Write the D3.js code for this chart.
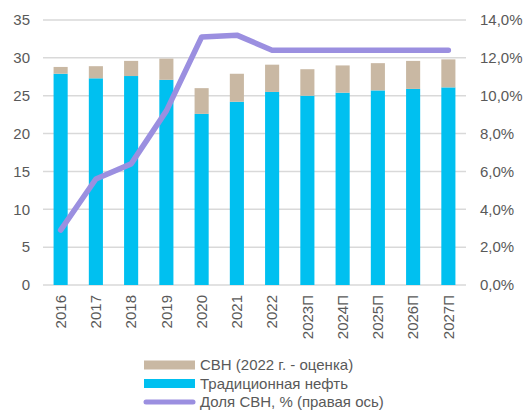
<!DOCTYPE html>
<html lang="ru">
<head>
<meta charset="UTF-8" />
<script src="https://d3js.org/d3.v7.min.js"></script>
<style>
  body { margin: 0; background: #fff; font-family: "Liberation Sans", Arial, sans-serif; }
  .axis text { fill: #595959; font-size: 15px; }
</style>
</head>
<body>
<svg width="528" height="410"></svg>
<script>
const years = ["2016", "2017", "2018", "2019", "2020", "2021", "2022", "2023П", "2024П", "2025П", "2026П", "2027П"];
const traditional = [27.9, 27.3, 27.6, 27.1, 22.6, 24.2, 25.5, 25.0, 25.4, 25.7, 25.9, 26.1];
const svn = [0.9, 1.6, 2.0, 2.8, 3.4, 3.7, 3.6, 3.5, 3.6, 3.6, 3.7, 3.7];
const svnShare = [2.9, 5.6, 6.4, 9.2, 13.1, 13.2, 12.4, 12.4, 12.4, 12.4, 12.4, 12.4];
const leftTicks = [0, 5, 10, 15, 20, 25, 30, 35];
const rightTicks = [0, 2, 4, 6, 8, 10, 12, 14];

const svg = d3.select("svg");
const margin = { top: 20, left: 43, right: 62, bottom: 125 };
const width = 528, height = 410;

const x = d3.scaleBand().domain(years).range([margin.left, width - margin.right]).paddingInner(0.6).paddingOuter(0.3);
const y = d3.scaleLinear().domain([0, 35]).range([height - margin.bottom, margin.top]);
const y2 = d3.scaleLinear().domain([0, 14]).range([height - margin.bottom, margin.top]);

// gridlines
svg.append("g")
  .selectAll("line")
  .data(leftTicks)
  .join("line")
  .attr("x1", margin.left)
  .attr("x2", width - margin.right)
  .attr("y1", d => y(d))
  .attr("y2", d => y(d))
  .attr("stroke", "#d9d9d9")
  .attr("stroke-width", 1.5);

const stacked = years.map((yr, i) => ({ yr, trad: traditional[i], svn: svn[i] }));

svg.append("g").selectAll("rect")
  .data(stacked)
  .join("rect")
  .attr("x", d => x(d.yr))
  .attr("width", x.bandwidth())
  .attr("y", d => y(d.trad))
  .attr("height", d => y(0) - y(d.trad))
  .attr("fill", "#00c0f0");

svg.append("g").selectAll("rect")
  .data(stacked)
  .join("rect")
  .attr("x", d => x(d.yr))
  .attr("width", x.bandwidth())
  .attr("y", d => y(d.trad + d.svn))
  .attr("height", d => y(d.trad) - y(d.trad + d.svn))
  .attr("fill", "#c9b8a3");

const line = d3.line()
  .x((d, i) => x(years[i]) + x.bandwidth() / 2)
  .y(d => y2(d));

svg.append("path")
  .datum(svnShare)
  .attr("d", line)
  .attr("fill", "none")
  .attr("stroke", "#9b8fe0")
  .attr("stroke-width", 5.5)
  .attr("stroke-linecap", "round")
  .attr("stroke-linejoin", "round");

// left axis
svg.append("g")
  .attr("class", "axis")
  .attr("transform", `translate(${margin.left},0)`)
  .call(d3.axisLeft(y).tickValues(leftTicks).tickSize(0).tickPadding(13))
  .call(g => g.select(".domain").remove());

// right axis
svg.append("g")
  .attr("class", "axis")
  .attr("transform", `translate(${width - margin.right},0)`)
  .call(d3.axisRight(y2).tickValues(rightTicks).tickSize(0).tickPadding(14)
    .tickFormat(d => d3.format(".1f")(d).replace(".", ",") + "%"))
  .call(g => g.select(".domain").remove());

// bottom axis
svg.append("g")
  .attr("class", "axis")
  .attr("transform", `translate(0,${height - margin.bottom})`)
  .call(d3.axisBottom(x).tickSize(0))
  .call(g => g.select(".domain").remove())
  .selectAll("text")
  .attr("transform", "rotate(-90)")
  .attr("text-anchor", "end")
  .attr("dy", "0.35em")
  .attr("dx", 0)
  .attr("y", 0)
  .attr("x", -10);

// legend
const legendItems = [
  { label: "СВН (2022 г. - оценка)", color: "#c9b8a3", type: "bar" },
  { label: "Традиционная нефть", color: "#00c0f0", type: "bar" },
  { label: "Доля СВН, % (правая ось)", color: "#9b8fe0", type: "line" }
];
const legend = svg.append("g").attr("transform", "translate(144,365)");
legendItems.forEach((d, i) => {
  const g = legend.append("g").attr("transform", `translate(0,${i * 18.5})`);
  if (d.type === "bar") {
    g.append("rect").attr("x", 0).attr("y", -4.5).attr("width", 51).attr("height", 9).attr("fill", d.color);
  } else {
    g.append("line").attr("x1", 2).attr("x2", 49).attr("y1", 0).attr("y2", 0)
      .attr("stroke", d.color).attr("stroke-width", 5).attr("stroke-linecap", "round");
  }
  g.append("text").attr("x", 56).attr("y", 0).attr("dy", "0.35em")
    .attr("fill", "#595959").attr("font-size", 15).text(d.label);
});
</script>
</body>
</html>
